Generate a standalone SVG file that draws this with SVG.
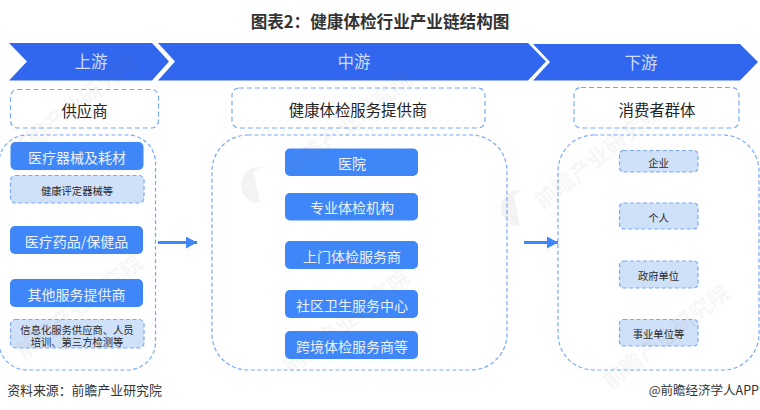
<svg xmlns="http://www.w3.org/2000/svg" width="760" height="410" viewBox="0 0 760 410">
<defs>
<style>
text{font-family:"Noto Sans CJK SC","Liberation Sans",sans-serif;text-anchor:middle;dominant-baseline:central}
.ban{fill:#3067ee}
.bt{font-size:16.5px;fill:#cfdcfb}
.hd{fill:#fff;stroke:#78a8fb;stroke-width:1.2;stroke-dasharray:5 3}
.ht{font-size:15.4px;fill:#222}
.pan{fill:none;stroke:#78a8fb;stroke-width:1.2;stroke-dasharray:4 2.5}
.bl{fill:#3f86f8}
.blt{font-size:14px;fill:#eaf2ff}
.lt{fill:#cfe0f9;stroke:#78a8fb;stroke-width:1.2;stroke-dasharray:4 2.5}
.ltt{font-size:10.3px;fill:#2a2a2a}
.wm{font-size:22px;font-weight:700;fill:#777;fill-opacity:.065}
.logo{fill:#777;fill-opacity:.09}
.con{stroke:#3f86f8;stroke-width:3;fill:none}
</style>
<marker id="ah" markerUnits="userSpaceOnUse" markerWidth="11" markerHeight="12" refX="11" refY="6" orient="auto"><path d="M0 0L11 6L0 12Z" fill="#3f86f8"/></marker>
</defs>
<rect width="760" height="410" fill="#fff"/>
<text id="title" x="380" y="20.5" style="font-size:16.6px;font-weight:700;fill:#333">图表2：健康体检行业产业链结构图</text>
<g id="stage-up"><polygon class="ban" points="9,43 152,43 169,61.5 152,80.5 9,80.5 27,61.5"/><text class="bt" x="91" y="61">上游</text></g>
<g id="stage-mid"><polygon class="ban" points="158,43 528,43 546,61.5 528,80.5 158,80.5 175,61.5"/><text class="bt" x="354" y="61">中游</text></g>
<g id="stage-down"><polygon class="ban" points="533,44 740,44 758,62 740,80.5 533,80.5 550,62"/><text class="bt" x="641" y="61.5">下游</text></g>
<g id="head-up"><rect class="hd" x="10.5" y="89.5" width="148" height="38.5" rx="7"/><text class="ht" x="84.5" y="109.5">供应商</text></g>
<g id="head-mid"><rect class="hd" x="232" y="88" width="253" height="40" rx="7"/><text class="ht" x="358" y="109">健康体检服务提供商</text></g>
<g id="head-down"><rect class="hd" x="574" y="87.5" width="165" height="40.5" rx="7"/><text class="ht" x="657" y="109">消费者群体</text></g>
<g id="panel-up"><rect class="pan" x="-1" y="135" width="156.5" height="235" rx="28"/></g>
<g id="panel-mid"><rect class="pan" x="212" y="135" width="295" height="235" rx="36"/></g>
<g id="panel-down"><rect class="pan" x="558" y="135" width="201" height="235" rx="36"/></g>
<g id="n-qixie"><rect class="bl" x="10.5" y="142" width="133" height="28" rx="5"/><text class="blt" x="77" y="156.500">医疗器械及耗材</text></g>
<g id="n-pingding"><rect class="lt" x="10.5" y="175.5" width="133.5" height="27.5" rx="5"/><text class="ltt" x="77" y="190">健康评定器械等</text></g>
<g id="n-yaopin"><rect class="bl" x="10" y="226" width="133" height="28" rx="5"/><text class="blt" x="76.500" y="241">医疗药品/保健品</text></g>
<g id="n-qita"><rect class="bl" x="10" y="279" width="133" height="28" rx="5"/><text class="blt" x="76.500" y="294">其他服务提供商</text></g>
<g id="n-xinxi"><rect class="lt" x="10.500" y="319.500" width="133.500" height="28.500" rx="5"/><text class="ltt"><tspan x="77" y="328.500">信息化服务供应商、人员</tspan><tspan x="77" y="341">培训、第三方检测等</tspan></text></g>
<g id="n-yiyuan"><rect class="bl" x="285" y="148.500" width="133" height="27.500" rx="5"/><text class="blt" x="352" y="163">医院</text></g>
<g id="n-zhuanye"><rect class="bl" x="285" y="193" width="133" height="27.500" rx="5"/><text class="blt" x="352" y="207">专业体检机构</text></g>
<g id="n-shangmen"><rect class="bl" x="285" y="241" width="133" height="28" rx="5"/><text class="blt" x="352" y="256">上门体检服务商</text></g>
<g id="n-shequ"><rect class="bl" x="285" y="290" width="133" height="28" rx="5"/><text class="blt" x="352" y="305">社区卫生服务中心</text></g>
<g id="n-kuajing"><rect class="bl" x="285" y="331" width="133" height="28" rx="5"/><text class="blt" x="352" y="346">跨境体检服务商等</text></g>
<g id="n-qiye"><rect class="lt" x="619.500" y="150.500" width="78.500" height="21.500" rx="4"/><text class="ltt" x="658.500" y="162">企业</text></g>
<g id="n-geren"><rect class="lt" x="619.500" y="203" width="78.500" height="26" rx="4"/><text class="ltt" x="658.500" y="217">个人</text></g>
<g id="n-zhengfu"><rect class="lt" x="619.500" y="261" width="78.500" height="27" rx="4"/><text class="ltt" x="658.500" y="275.500">政府单位</text></g>
<g id="n-shiye"><rect class="lt" x="619.500" y="319.500" width="78.500" height="26.500" rx="4"/><text class="ltt" x="658.500" y="333.500">事业单位等</text></g>
<g id="connectors"><line class="con" x1="158" y1="242.500" x2="197" y2="242.500" marker-end="url(#ah)"/><line class="con" x1="524" y1="242.500" x2="558" y2="242.500" marker-end="url(#ah)"/></g>
<text id="source" x="84.500" y="389" style="font-size:12.900px;fill:#333">资料来源：前瞻产业研究院</text>
<text id="credit" x="759" y="389" style="font-size:12.500px;fill:#333;text-anchor:end">@前瞻经济学人APP</text>
<g id="watermarks">
<path class="logo" d="M258 167a18 18 0 1 0 2 36l-6-30a9 9 0 0 1 12-5a18 18 0 0 0-8-1z"/>
<path class="logo" d="M518 190a18 18 0 1 0 2 36l-6-30a9 9 0 0 1 12-5a18 18 0 0 0-8-1z"/>
<text class="wm" transform="translate(72,105) rotate(-38)">前瞻产业研究院</text>
<text class="wm" transform="translate(347,122) rotate(-38)">前瞻产业研究院</text>
<text class="wm" transform="translate(597,155) rotate(-38)">前瞻产业研究院</text>
<text class="wm" transform="translate(78,305) rotate(-38)">前瞻产业研究院</text>
<text class="wm" transform="translate(345,320) rotate(-38)">前瞻产业研究院</text>
<text class="wm" transform="translate(665,335) rotate(-38)">前瞻产业研究院</text>
</g>
</svg>
